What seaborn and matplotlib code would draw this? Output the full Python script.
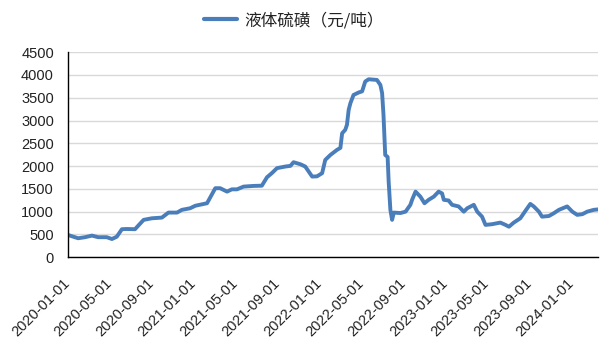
import matplotlib
matplotlib.use("Agg")
import matplotlib.pyplot as plt
import matplotlib.dates as mdates
import seaborn as sns
import pandas as pd

dates = [
    "2020-01-01", "2020-01-31", "2020-02-20", "2020-03-11", "2020-03-29", "2020-04-23",
    "2020-05-08", "2020-05-22", "2020-06-06", "2020-06-20", "2020-07-14", "2020-07-23",
    "2020-08-08", "2020-09-01", "2020-09-30", "2020-10-19", "2020-11-13", "2020-11-27",
    "2020-12-21", "2021-01-05", "2021-02-08", "2021-03-04", "2021-03-18", "2021-04-07",
    "2021-04-21", "2021-05-06", "2021-05-25", "2021-06-23", "2021-07-17", "2021-08-01",
    "2021-08-15", "2021-08-30", "2021-09-23", "2021-10-08", "2021-10-17", "2021-11-06",
    "2021-11-20", "2021-12-10", "2021-12-24", "2022-01-08", "2022-01-17", "2022-02-01",
    "2022-02-20", "2022-03-02", "2022-03-07", "2022-03-16", "2022-03-21", "2022-03-26",
    "2022-03-31", "2022-04-09", "2022-04-24", "2022-05-04", "2022-05-13", "2022-05-23",
    "2022-06-16", "2022-06-26", "2022-07-01", "2022-07-05", "2022-07-10", "2022-07-17",
    "2022-07-20", "2022-07-25", "2022-07-30", "2022-08-04", "2022-08-23", "2022-09-07",
    "2022-09-21", "2022-09-26", "2022-10-06", "2022-10-20", "2022-11-01", "2022-11-13",
    "2022-11-28", "2022-12-12", "2022-12-22", "2022-12-27", "2023-01-10", "2023-01-20",
    "2023-02-08", "2023-02-23", "2023-03-05", "2023-03-24", "2023-04-03", "2023-04-17",
    "2023-04-27", "2023-05-16", "2023-06-09", "2023-06-24", "2023-07-04", "2023-07-18",
    "2023-08-06", "2023-08-21", "2023-09-04", "2023-09-14", "2023-09-29", "2023-10-08",
    "2023-10-28", "2023-11-11", "2023-11-26", "2023-12-20", "2024-01-04", "2024-01-18",
    "2024-02-02", "2024-02-16", "2024-03-06", "2024-03-19",
]
values = [
    490, 417, 440, 475, 440, 440,
    400, 450, 615, 620, 615, 690,
    820, 855, 870, 980, 980, 1040,
    1075, 1130, 1185, 1515, 1515, 1440,
    1490, 1490, 1550, 1565, 1570, 1755,
    1845, 1955, 1990, 2005, 2085, 2040,
    1990, 1770, 1775, 1845, 2135, 2245,
    2355, 2400, 2720, 2795, 2905, 3235,
    3380, 3560, 3615, 3640, 3855, 3905,
    3890, 3780, 3600, 3125, 2245, 2200,
    1660, 1040, 820, 980, 970, 1000,
    1150, 1260, 1440, 1330, 1185, 1260,
    1330, 1440, 1400, 1260, 1245, 1150,
    1115, 1000, 1075, 1150, 1000, 890,
    710, 725, 760, 710, 670, 760,
    855, 1020, 1170, 1115, 1000, 890,
    905, 965, 1040, 1115, 1000, 930,
    945, 1000, 1040, 1050,
]
series_name = "液体硫磺（元/吨）"
tick_dates = ["2020-01-01", "2020-05-01", "2020-09-01", "2021-01-01", "2021-05-01",
              "2021-09-01", "2022-01-01", "2022-05-01", "2022-09-01", "2023-01-01",
              "2023-05-01", "2023-09-01", "2024-01-01"]
y_ticks = [0, 500, 1000, 1500, 2000, 2500, 3000, 3500, 4000, 4500]

df = pd.DataFrame({"date": pd.to_datetime(dates), "value": values, "series": series_name})

sns.set_style("white")
plt.rcParams["font.family"] = ["Liberation Sans", "Noto Sans CJK SC", "DejaVu Sans"]

fig = plt.figure(figsize=(6.0, 3.43), dpi=100)
ax = fig.add_axes([0.113, 0.25, 0.884, 0.598])

sns.lineplot(data=df, x="date", y="value", hue="series", palette=["#4a7ebb"],
             linewidth=2.8, ax=ax, legend=True)

ax.set_xlim(pd.Timestamp("2020-01-01"), pd.Timestamp("2024-03-19"))
ax.set_ylim(0, 4500)
ax.set_yticks(y_ticks)
ax.set_yticklabels([str(v) for v in y_ticks], fontsize=10.5, color="#222222")
ax.set_xticks(pd.to_datetime(tick_dates))
ax.xaxis.set_major_formatter(mdates.DateFormatter("%Y-%m-%d"))
for lab in ax.get_xticklabels():
    lab.set_rotation(45)
    lab.set_ha("right")
    lab.set_va("center")
    lab.set_rotation_mode("anchor")
    lab.set_fontsize(10.5)
    lab.set_color("#222222")
ax.tick_params(axis="x", direction="in", length=5, width=1, color="black", pad=17)
ax.tick_params(axis="y", direction="in", length=4, width=1, color="black", pad=10)
ax.grid(axis="y", color="#d9d9d9", linewidth=1)
ax.set_axisbelow(True)
for s in ["top", "right"]:
    ax.spines[s].set_visible(False)
for s in ["left", "bottom"]:
    ax.spines[s].set_color("black")
    ax.spines[s].set_linewidth(1)
ax.set_xlabel("")
ax.set_ylabel("")

ax.legend_.remove()
handles, labels = ax.get_legend_handles_labels()
leg = fig.legend(handles, labels, loc="center", bbox_to_anchor=(0.49, 0.94),
                 frameon=False, handlelength=2.0, handletextpad=0.45,
                 prop={"family": ["Noto Sans CJK SC", "DejaVu Sans"], "size": 12})
for line in leg.get_lines():
    line.set_linewidth(3)
for t in leg.get_texts():
    t.set_color("#222222")

fig.savefig("out.png", dpi=100)
